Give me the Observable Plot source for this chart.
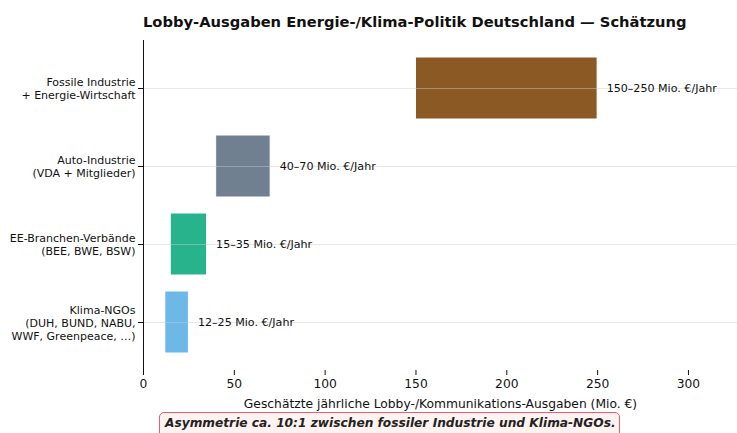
<!DOCTYPE html>
<html>
<head>
<meta charset="utf-8">
<script src="https://cdn.jsdelivr.net/npm/d3@7"></script>
<script src="https://cdn.jsdelivr.net/npm/@observablehq/plot@0.6"></script>
<style>
  body { margin: 0; background: #fff; }
  #wrap { position: relative; width: 737px; height: 433px; overflow: hidden; font-family: "DejaVu Sans", sans-serif; }
  #title { position: absolute; left: 143px; top: 13px; width: 543px; text-align: center; font-weight: bold; font-size: 14.7px; color: #111; white-space: nowrap; }
  #note { position: absolute; left: 159px; top: 412px; width: 461px; height: 30px; box-sizing: border-box; border: 1px solid #e0606e; border-radius: 5px; background: #fff3f2; font-weight: bold; font-style: italic; font-size: 12.2px; color: #222; padding: 3px 0 0 5px; white-space: nowrap; }
  svg text { font-family: "DejaVu Sans", sans-serif; }
</style>
</head>
<body>
<div id="wrap">
  <div id="title">Lobby-Ausgaben Energie-/Klima-Politik Deutschland — Schätzung</div>
  <div id="chart"></div>
  <div id="note">Asymmetrie ca. 10:1 zwischen fossiler Industrie und Klima-NGOs.</div>
</div>
<script>
const categories = [
  "Fossile Industrie\n+ Energie-Wirtschaft",
  "Auto-Industrie\n(VDA + Mitglieder)",
  "EE-Branchen-Verbände\n(BEE, BWE, BSW)",
  "Klima-NGOs\n(DUH, BUND, NABU,\nWWF, Greenpeace, …)"
];
const lowValues = [150, 40, 15, 12];
const highValues = [250, 70, 35, 25];
const rangeLabels = ["150–250 Mio. €/Jahr", "40–70 Mio. €/Jahr", "15–35 Mio. €/Jahr", "12–25 Mio. €/Jahr"];
const colors = ["#8B5A24", "#708090", "#27B48C", "#6DB8E6"];
const xTicks = [0, 50, 100, 150, 200, 250, 300];

const data = categories.map((c, i) => ({cat: c, lo: lowValues[i], hi: highValues[i], label: rangeLabels[i], color: colors[i]}));

const chart = Plot.plot({
  width: 737,
  height: 433,
  marginTop: 40,
  marginBottom: 63,
  marginLeft: 143,
  marginRight: 0,
  style: {fontSize: "12px", fontFamily: "DejaVu Sans, sans-serif", color: "#222"},
  x: {domain: [0, 327], ticks: xTicks},
  y: {domain: categories, paddingInner: 0.2, paddingOuter: 0.19},
  marks: [
    Plot.barX(data, {y: "cat", x1: "lo", x2: "hi", fill: "color", stroke: "#fff", strokeWidth: 1}),
    Plot.gridY(categories, {stroke: "#ccc", strokeOpacity: 0.45, strokeWidth: 1}),
    Plot.text(data, {y: "cat", x: "hi", text: "label", textAnchor: "start", dx: 9, fontSize: 11.1, fill: "#111"}),
    Plot.axisX({ticks: xTicks, tickSize: 5, fontSize: 12.3, tickPadding: 4, label: "Geschätzte jährliche Lobby-/Kommunikations-Ausgaben (Mio. €)", labelAnchor: "center", labelArrow: "none", labelOffset: 37, color: "#111"}),
    Plot.axisY({tickSize: 5, tickPadding: 3, fontSize: 11, label: null, lineHeight: 1.18, color: "#111"}),
    Plot.ruleX([0], {stroke: "#111"}),
    Plot.ruleY([0], {stroke: "#111"})
  ]
});
document.getElementById("chart").appendChild(chart);
</script>
</body>
</html>
